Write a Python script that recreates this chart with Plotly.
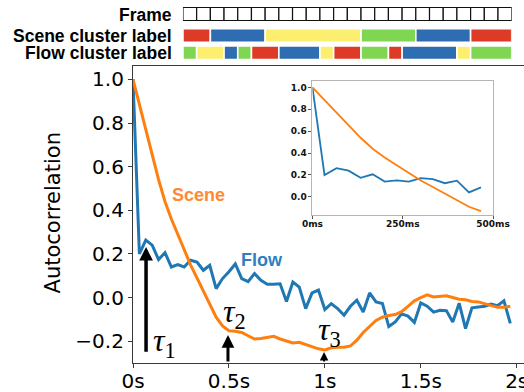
import plotly.graph_objects as go

# ---------------- data ----------------
frame_rate = 30
flow_acf = [1.0, 0.20, 0.263, 0.24, 0.174, 0.206, 0.14, 0.151, 0.14, 0.171,
            0.163, 0.125, 0.148, 0.041, 0.087, 0.118, 0.154, 0.087, 0.073, 0.11,
            0.079, 0.061, 0.061, 0.063, -0.018, 0.071, 0.048, -0.051, 0.021, 0.034,
            -0.055, -0.028, -0.051, -0.081, -0.04, -0.012, -0.066, 0.021, -0.02, -0.027,
            -0.133, -0.112, -0.075, -0.085, -0.114, -0.025, -0.04, -0.067, -0.058, -0.06,
            -0.112, -0.026, -0.142, -0.047, -0.043, -0.04, -0.03, -0.037, -0.015, -0.118]
scene_acf = [1.0, 0.885, 0.77, 0.655, 0.54, 0.44, 0.36, 0.29, 0.22, 0.15,
             0.09, 0.03, -0.035, -0.09, -0.13, -0.152, -0.155, -0.16, -0.175, -0.19,
             -0.188, -0.182, -0.178, -0.19, -0.2, -0.208, -0.205, -0.215, -0.225, -0.235,
             -0.24, -0.23, -0.228, -0.228, -0.222, -0.195, -0.16, -0.13, -0.105, -0.09,
             -0.082, -0.078, -0.065, -0.04, -0.015, 0.0, 0.012, 0.003, 0.004, 0.008,
             0.0, -0.008, -0.01, -0.018, -0.02, -0.028, -0.035, -0.045, -0.045, -0.04]
inset_frames = 15

x_tick_vals = [0, 0.5, 1.0, 1.5, 2.0]
x_tick_text = ["0s", "0.5s", "1s", "1.5s", "2s"]
y_tick_vals = [-0.2, 0.0, 0.2, 0.4, 0.6, 0.8, 1.0]
inset_x_tick_vals = [0, 0.25, 0.5]
inset_x_tick_text = ["0ms", "250ms", "500ms"]
inset_y_tick_vals = [0.0, 0.2, 0.4, 0.6, 0.8, 1.0]

n_frames_header = 24
scene_bounds = [0, 2, 6, 13, 17, 21, 24]
scene_labels = ["red", "blue", "yellow", "green", "blue", "red"]
flow_bounds = [0, 1, 3, 4, 5, 7, 10, 11, 13, 15, 16, 20, 21, 24]
flow_labels = ["green", "yellow", "blue", "green", "red", "blue", "yellow",
               "red", "green", "red", "blue", "yellow", "green"]

tau_times = [0.068, 0.495, 0.996]          # tau1, tau2, tau3 (s)
tau_levels = [0.232, -0.172, -0.25]          # arrow tip values

# ---------------- styling ----------------
W, H = 524, 392
ML, MR, MT, MB = 132.7, 0, 5, 29.3
PW = W - ML - MR
PH = H - MT - MB


def px_x(px):
    return (px - ML) / PW


def px_y(py):
    return (H - MB - py) / PH


ORANGE = "#ff7f0e"
BLUE = "#1f77b4"
label_colors = {"red": "#dd3b27", "blue": "#2f6db3", "yellow": "#fcef6f", "green": "#80d653"}

t = [k / frame_rate for k in range(len(flow_acf))]

fig = go.Figure()

# main curves
fig.add_trace(go.Scatter(x=t, y=flow_acf, mode="lines", line=dict(color=BLUE, width=3),
                         xaxis="x", yaxis="y", showlegend=False, hoverinfo="skip"))
fig.add_trace(go.Scatter(x=t, y=scene_acf, mode="lines", line=dict(color=ORANGE, width=3),
                         xaxis="x", yaxis="y", showlegend=False, hoverinfo="skip"))

# inset curves
fig.add_trace(go.Scatter(x=t[:inset_frames], y=flow_acf[:inset_frames], mode="lines",
                         line=dict(color=BLUE, width=1.8), xaxis="x2", yaxis="y2",
                         showlegend=False, hoverinfo="skip"))
fig.add_trace(go.Scatter(x=t[:inset_frames], y=scene_acf[:inset_frames], mode="lines",
                         line=dict(color=ORANGE, width=1.8), xaxis="x2", yaxis="y2",
                         showlegend=False, hoverinfo="skip"))

# header rows (y axis in pixel-like units)
ROW_FRAME, ROW_SCENE, ROW_FLOW = 14.0, 35.5, 52.8
fig.add_trace(go.Bar(
    y=[ROW_FRAME] * n_frames_header, x=[1] * n_frames_header,
    base=list(range(n_frames_header)), orientation="h", width=13.0,
    marker=dict(color="white", line=dict(color="#111111", width=1.2)),
    xaxis="x3", yaxis="y3", showlegend=False, hoverinfo="skip"))


def seg_trace(bounds, labels, row):
    starts = bounds[:-1]
    lengths = [b - a for a, b in zip(bounds[:-1], bounds[1:])]
    return go.Bar(y=[row] * len(labels), x=lengths, base=starts, orientation="h",
                  width=13.6,
                  marker=dict(color=[label_colors[c] for c in labels],
                              line=dict(color="white", width=1.6)),
                  xaxis="x3", yaxis="y3", showlegend=False, hoverinfo="skip")


fig.add_trace(seg_trace(scene_bounds, scene_labels, ROW_SCENE))
fig.add_trace(seg_trace(flow_bounds, flow_labels, ROW_FLOW))

axis_line = "#3a3a3a"
tick_font = dict(family="DejaVu Sans", size=20, color="black")
inset_font = dict(family="DejaVu Sans", size=9, color="#111", weight="bold")

main_top_px, main_bot_px = 66, 362.7
fig.update_layout(
    width=W, height=H,
    margin=dict(l=ML, r=MR, t=MT, b=MB, pad=0, autoexpand=False),
    paper_bgcolor="white", plot_bgcolor="white",
    barmode="overlay",
    xaxis=dict(domain=[0, 1], range=[0, (W - ML) / 192.0], anchor="y", automargin=False,
               tickvals=x_tick_vals, ticktext=x_tick_text, tickfont=tick_font,
               ticklabeloverflow="allow", ticklabelstandoff=-4,
               showgrid=False, zeroline=False, showline=True, linecolor=axis_line,
               linewidth=1.2, mirror=True, ticks="outside", ticklen=4,
               tickcolor=axis_line, tickwidth=1),
    yaxis=dict(domain=[px_y(main_bot_px), px_y(main_top_px)], range=[-0.3, 1.061],
               anchor="x", automargin=False, tickvals=y_tick_vals, tickformat=".1f",
               tickfont=tick_font, ticklabeloverflow="allow",
               showgrid=False, zeroline=False, showline=True, linecolor=axis_line,
               linewidth=1.2, ticks="outside", ticklen=4, tickcolor=axis_line,
               tickwidth=1),
    xaxis2=dict(domain=[px_x(312.3), px_x(493)], range=[0, 0.5], anchor="y2",
                automargin=False, ticklabelstandoff=-3,
                tickvals=inset_x_tick_vals, ticktext=inset_x_tick_text,
                tickfont=inset_font,
                showgrid=False, zeroline=False, showline=True, linecolor="#b5b5b5",
                linewidth=1, mirror=True, ticks="outside", ticklen=3,
                tickcolor="#555", tickwidth=1),
    yaxis2=dict(domain=[px_y(215), px_y(81)], range=[-0.167, 1.058], anchor="x2",
                automargin=False,
                tickvals=inset_y_tick_vals, tickformat=".1f",
                tickfont=inset_font,
                showgrid=False, zeroline=False, showline=True, linecolor="#b5b5b5",
                linewidth=1, mirror=True, ticks="outside", ticklen=3,
                tickcolor="#555", tickwidth=1),
    xaxis3=dict(domain=[px_x(182.7), px_x(511.7)], range=[0, n_frames_header],
                anchor="y3", visible=False, fixedrange=True, automargin=False),
    yaxis3=dict(domain=[px_y(62), px_y(5)], range=[62, 5], anchor="x3",
                visible=False, fixedrange=True, automargin=False),
)

# header labels
hdr_font = dict(family="Liberation Sans", size=17.5, color="black", weight="bold")
for txt, row in [("Frame", ROW_FRAME), ("Scene cluster label", ROW_SCENE),
                 ("Flow cluster label", ROW_FLOW)]:
    fig.add_annotation(text=txt, xref="paper", yref="y3", x=px_x(174), y=row,
                       xanchor="right", yanchor="middle", showarrow=False, font=hdr_font,
                       height=15)

# y-axis title
fig.add_annotation(text="Autocorrelation", xref="paper", yref="y", x=px_x(53), y=0.387,
                   textangle=-90, showarrow=False, xanchor="center", yanchor="middle",
                   font=dict(family="DejaVu Sans", size=21, color="black"))

# curve labels
fig.add_annotation(text="Scene", xref="x", yref="y", x=0.342, y=0.469, showarrow=False,
                   font=dict(family="Liberation Sans", size=18, color="#ff8a33", weight="bold"))
fig.add_annotation(text="Flow", xref="x", yref="y", x=0.674, y=0.174, showarrow=False,
                   font=dict(family="Liberation Sans", size=18, color="#2f7fc1", weight="bold"))

# tau arrows
arrow_specs = [(3.5, 0.78, -0.255), (3.0, 0.85, -0.3), (2.0, 0.85, -0.3)]
for (tt, lv, (aw, asz, tail)) in zip(tau_times, tau_levels, arrow_specs):
    fig.add_annotation(x=tt, y=lv, ax=tt, ay=tail, xref="x", yref="y", axref="x", ayref="y",
                       text="", showarrow=True, arrowhead=2, arrowsize=asz, arrowwidth=aw,
                       arrowcolor="black", standoff=0, startstandoff=0)

tau_font = dict(family="Liberation Serif", size=32, color="black")
tau_label_pos = [(0.163, -0.205), (0.528, -0.075), (1.022, -0.155)]
for i, (lx, ly) in enumerate(tau_label_pos):
    fig.add_annotation(text=f"<i>τ</i><sub>{i + 1}</sub>", xref="x", yref="y", x=lx, y=ly,
                       showarrow=False, xanchor="center", yanchor="middle", font=tau_font)

fig.write_html("out.html", config={"displayModeBar": False},
               post_script="document.body.style.margin='0';document.body.style.padding='0';")
